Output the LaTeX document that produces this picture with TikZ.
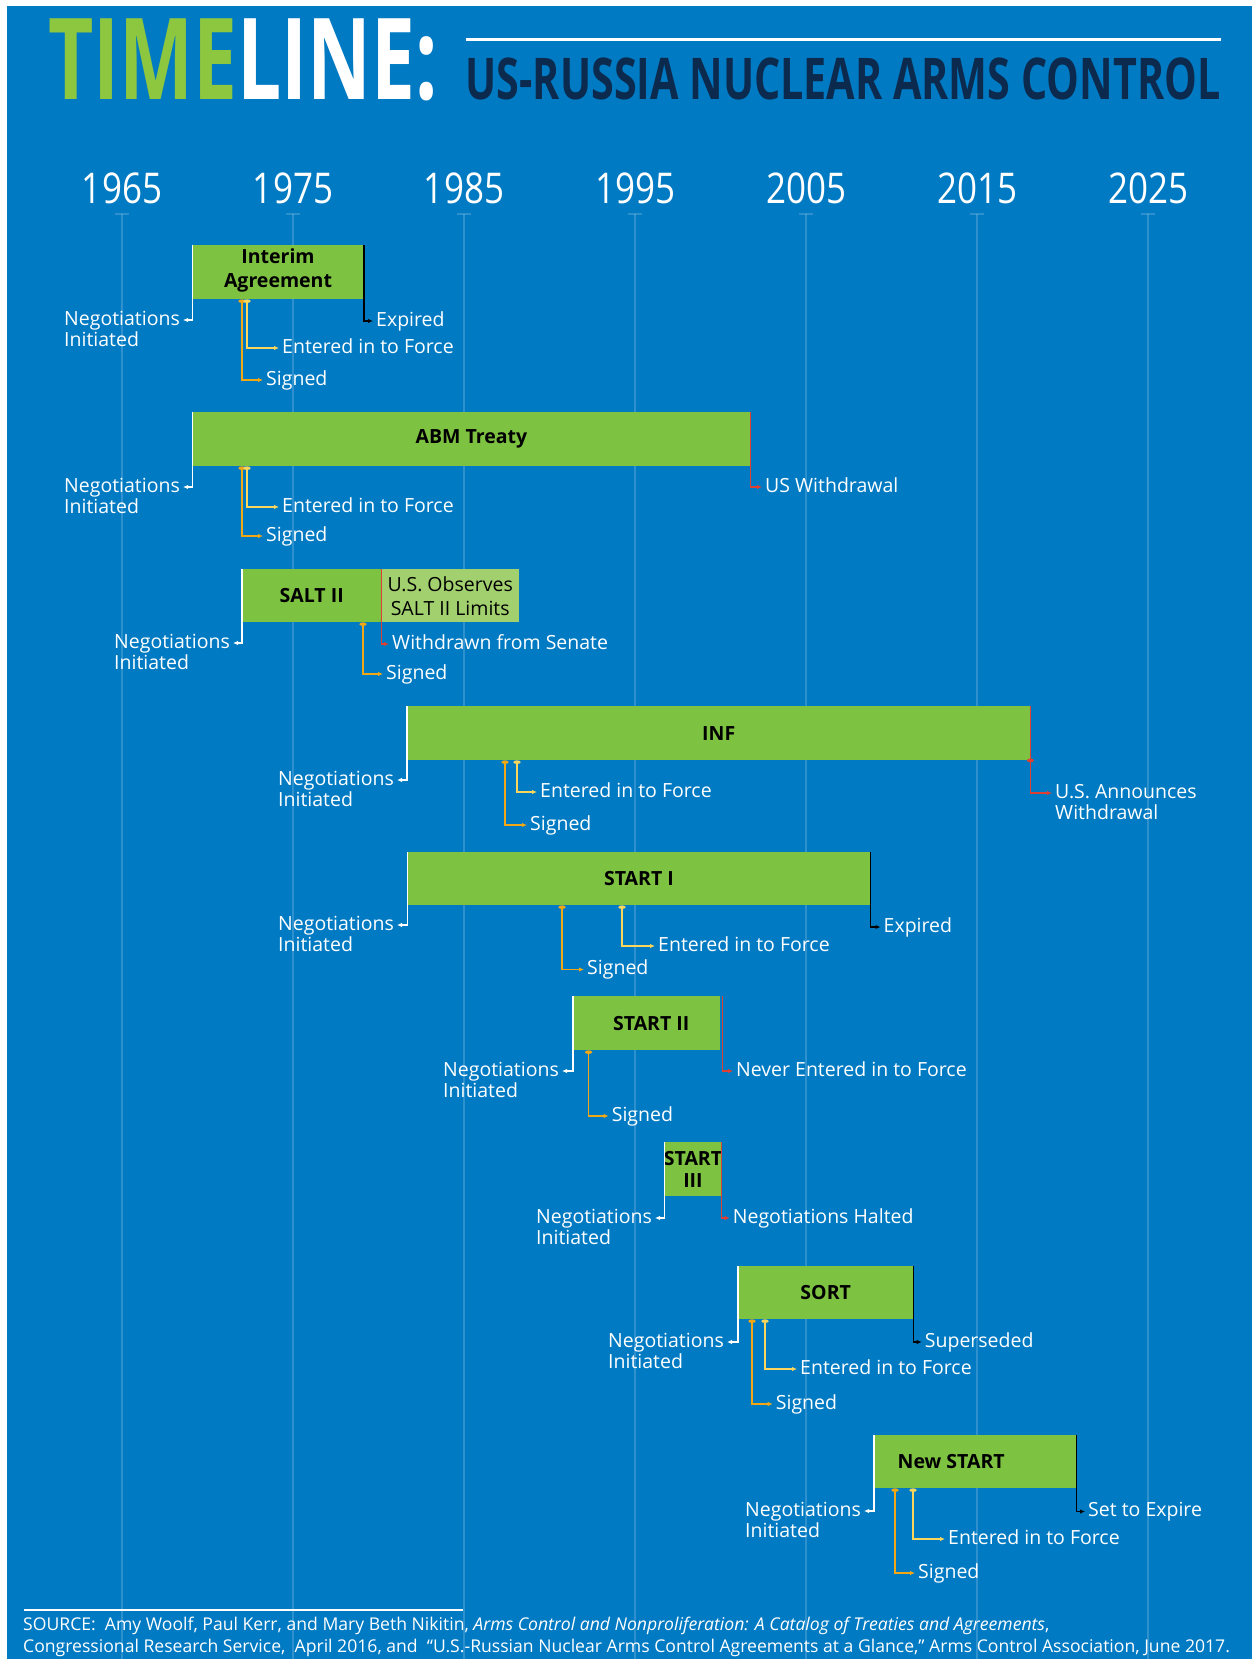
\documentclass[tikz,border=0pt]{standalone}
\usepackage{fontspec}
\setmainfont{Open Sans}
\usetikzlibrary{positioning,calc,arrows.meta}
\definecolor{bgblue}{RGB}{0,122,194}
\definecolor{boxgreen}{RGB}{126,194,66}
\definecolor{lightgreen}{RGB}{162,208,110}
\definecolor{titlegreen}{RGB}{141,198,63}
\definecolor{navy}{RGB}{12,42,78}
\definecolor{signcol}{RGB}{242,168,20}
\definecolor{forcecol}{RGB}{250,214,92}
\definecolor{endred}{RGB}{222,64,52}

\begin{document}
\begin{tikzpicture}[x=1pt,y=-1pt,
    treaty/.style={fill=boxgreen,inner sep=0pt,anchor=north west},
    tname/.style={font=\fontsize{19.5}{24}\selectfont\bfseries,align=center,inner sep=0pt},
    lbl/.style={text=white,font=\fontsize{19.5}{21}\selectfont,inner xsep=3pt,inner ysep=1pt,text height=14.5pt,text depth=4.5pt},
    two/.style={label={[lbl,anchor=north west]south west:#1}},
    event/.style={line width=1.4pt,-{Latex[length=5pt,width=4.5pt]}},
    neg/.style={event,white},
    endblack/.style={event,black},
    endredl/.style={event,endred},
    signed/.style={event,signcol,{Ellipse[length=3.5pt,width=7pt]}-{Latex[length=5pt,width=4.5pt]}},
    force/.style={event,forcecol,{Ellipse[length=3.5pt,width=7pt]}-{Latex[length=5pt,width=4.5pt]}},
    yearline/.style={white,opacity=0.18,line width=2.5pt},
    year/.style={text=white,inner sep=0pt},
    foot/.style={text=white,font=\fontsize{17.6}{22}\selectfont,inner sep=0pt,anchor=west}
  ]
  \useasboundingbox (0,0) rectangle (1252,1659);
  \fill[white] (0,0) rectangle (1252,1659);
  \fill[bgblue] (7,6) rectangle (1252,1659);

  \node[anchor=north west,inner sep=0pt] (ttl) at (48,18.3)
    {\resizebox{389.5pt}{80.7pt}{\bfseries\textcolor{titlegreen}{TIME}\textcolor{white}{LINE:}}};
  \node[anchor=north west,inner sep=0pt] (sub) at (465.5,57.3)
    {\resizebox{754.5pt}{41.7pt}{\bfseries\textcolor{navy}{US-RUSSIA NUCLEAR ARMS CONTROL}}};
  \draw[white,line width=3.5pt] ([yshift=18pt]sub.north west) -- ([yshift=18pt]sub.north east);

  \foreach \yr [count=\i from 0] in {1965,1975,...,2025}{
    \node[year] (y\yr) at (122+171*\i,188.7) {\resizebox{80pt}{30.7pt}{\yr}};
    \draw[yearline] (115+171*\i,214) -- (129+171*\i,214);
    \draw[yearline] (122+171*\i,214) -- (122+171*\i,1659);
  }

  \node[treaty,minimum width=171pt,minimum height=54pt] (ia) at (192.5,245) {};
  \node[tname] (iaT) at (278,270.5) {Interim\\Agreement};
  \node[lbl,anchor=east,two=Initiated] (iaNeg) at (183,320) {Negotiations};
  \node[lbl,anchor=west] (iaEnd) at (373,321) {Expired};
  \node[lbl,anchor=west] (iaFor) at (279,348) {Entered in to Force};
  \node[lbl,anchor=west] (iaSig) at (263,380) {Signed};
  \draw[neg] (ia.north west) |- (iaNeg.east);
  \draw[endblack] (ia.north east) |- (iaEnd.west);
  \draw[signed] ([xshift=49.5pt]ia.south west) |- (iaSig.west);
  \draw[force] ([xshift=54.5pt]ia.south west) |- (iaFor.west);

  \node[treaty,minimum width=557.5pt,minimum height=54pt] (abm) at (192.5,412) {};
  \node[tname] (abmT) at (abm.center) {ABM Treaty};
  \node[lbl,anchor=east,two=Initiated] (abmNeg) at (183,487) {Negotiations};
  \node[lbl,anchor=west] (abmEnd) at (762,487) {US Withdrawal};
  \node[lbl,anchor=west] (abmFor) at (279,507) {Entered in to Force};
  \node[lbl,anchor=west] (abmSig) at (263,536) {Signed};
  \draw[neg] (abm.north west) |- (abmNeg.east);
  \draw[endredl] (abm.north east) |- (abmEnd.west);
  \draw[signed] ([xshift=49.5pt]abm.south west) |- (abmSig.west);
  \draw[force] ([xshift=54.5pt]abm.south west) |- (abmFor.west);

  \node[treaty,minimum width=139pt,minimum height=53pt] (salt) at (242,569) {};
  \node[treaty,fill=lightgreen,minimum width=138pt,minimum height=53pt] (saltx) at (381,569) {};
  \node[tname] (saltT) at (salt.center) {SALT II};
  \node[tname,font=\fontsize{19.5}{24}\selectfont,text=black] (saltxT) at (saltx.center) {U.S. Observes\\SALT II Limits};
  \node[lbl,anchor=east,two=Initiated] (saltNeg) at (233,643) {Negotiations};
  \node[lbl,anchor=west] (saltEnd) at (389,644) {Withdrawn from Senate};
  \node[lbl,anchor=west] (saltSig) at (383,674) {Signed};
  \draw[neg] (salt.north west) |- (saltNeg.east);
  \draw[endredl] (salt.north east) |- (saltEnd.west);
  \draw[signed] ([xshift=121pt]salt.south west) |- (saltSig.west);

  \node[treaty,minimum width=623pt,minimum height=54pt] (inf) at (407,706) {};
  \node[tname] (infT) at (inf.center) {INF};
  \node[lbl,anchor=east,two=Initiated] (infNeg) at (397,780) {Negotiations};
  \node[lbl,anchor=west,two=Withdrawal] (infEnd) at (1052,793) {U.S. Announces};
  \node[lbl,anchor=west] (infFor) at (537,792) {Entered in to Force};
  \node[lbl,anchor=west] (infSig) at (527,825) {Signed};
  \draw[neg] (inf.north west) |- (infNeg.east);
  \draw[endredl] (inf.north east) |- (infEnd.west);
  \fill[endred] (inf.south east) ellipse (3.5 and 2);
  \draw[signed] ([xshift=98pt]inf.south west) |- (infSig.west);
  \draw[force] ([xshift=110pt]inf.south west) |- (infFor.west);

  \node[treaty,minimum width=462.5pt,minimum height=53pt] (s1) at (407.5,852) {};
  \node[tname] (s1T) at (s1.center) {START I};
  \node[lbl,anchor=east,two=Initiated] (s1Neg) at (397,925) {Negotiations};
  \node[lbl,anchor=west] (s1End) at (880.5,927) {Expired};
  \node[lbl,anchor=west] (s1For) at (655,946) {Entered in to Force};
  \node[lbl,anchor=west] (s1Sig) at (584,969.5) {Signed};
  \draw[neg] (s1.north west) |- (s1Neg.east);
  \draw[endblack] (s1.north east) |- (s1End.west);
  \draw[signed] ([xshift=154.5pt]s1.south west) |- (s1Sig.west);
  \draw[force] ([xshift=214.5pt]s1.south west) |- (s1For.west);

  \node[treaty,minimum width=147pt,minimum height=54pt] (s2) at (573,996) {};
  \node[tname] (s2T) at ([xshift=4.5pt]s2.center) {START II};
  \node[lbl,anchor=east,two=Initiated] (s2Neg) at (562,1071) {Negotiations};
  \node[lbl,anchor=west] (s2End) at (733,1071) {Never Entered in to Force};
  \node[lbl,anchor=west] (s2Sig) at (608.6,1116) {Signed};
  \draw[neg] (s2.north west) |- (s2Neg.east);
  \draw[endredl] ([xshift=2pt]s2.north east) |- (s2End.west);
  \draw[signed] ([xshift=15.6pt]s2.south west) |- (s2Sig.west);

  \node[treaty,minimum width=56.5pt,minimum height=54pt] (s3) at (664.5,1142) {};
  \node[tname,font=\fontsize{19.5}{22.5}\selectfont\bfseries] (s3T) at (s3.center) {START\\III};
  \node[lbl,anchor=east,two=Initiated] (s3Neg) at (655,1218) {Negotiations};
  \node[lbl,anchor=west] (s3End) at (729.7,1218) {Negotiations Halted};
  \draw[neg] (s3.north west) |- (s3Neg.east);
  \draw[endredl] (s3.north east) |- (s3End.west);

  \node[treaty,minimum width=175pt,minimum height=53pt] (sort) at (738,1266) {};
  \node[tname] (sortT) at (sort.center) {SORT};
  \node[lbl,anchor=east,two=Initiated] (sortNeg) at (727,1342) {Negotiations};
  \node[lbl,anchor=west] (sortEnd) at (921.7,1342) {Superseded};
  \node[lbl,anchor=west] (sortFor) at (797,1369) {Entered in to Force};
  \node[lbl,anchor=west] (sortSig) at (772.7,1404) {Signed};
  \draw[neg] (sort.north west) |- (sortNeg.east);
  \draw[endblack] (sort.north east) |- (sortEnd.west);
  \draw[signed] ([xshift=14pt]sort.south west) |- (sortSig.west);
  \draw[force] ([xshift=27pt]sort.south west) |- (sortFor.west);

  \node[treaty,minimum width=202pt,minimum height=53pt] (ns) at (874,1435) {};
  \node[tname] (nsT) at ([xshift=-24pt]ns.center) {New START};
  \node[lbl,anchor=east,two=Initiated] (nsNeg) at (864,1511) {Negotiations};
  \node[lbl,anchor=west] (nsEnd) at (1085,1511.5) {Set to Expire};
  \node[lbl,anchor=west] (nsFor) at (945,1539) {Entered in to Force};
  \node[lbl,anchor=west] (nsSig) at (915,1573) {Signed};
  \draw[neg] (ns.north west) |- (nsNeg.east);
  \draw[endblack] (ns.north east) |- (nsEnd.west);
  \draw[signed] ([xshift=21pt]ns.south west) |- (nsSig.west);
  \draw[force] ([xshift=39pt]ns.south west) |- (nsFor.west);

  \draw[white,line width=2pt] (24,1609.5) -- (463,1609.5);
  \node[foot] (src1) at (23,1626) {SOURCE:\ \ Amy Woolf, Paul Kerr, and Mary Beth Nikitin, \textit{Arms Control and Nonproliferation: A Catalog of Treaties and Agreements},};
  \node[foot] (src2) at (23,1648) {Congressional Research Service,\ \ April 2016, and\ \ “U.S.-Russian Nuclear Arms Control Agreements at a Glance,” Arms Control Association, June 2017.};
\end{tikzpicture}
\end{document}
